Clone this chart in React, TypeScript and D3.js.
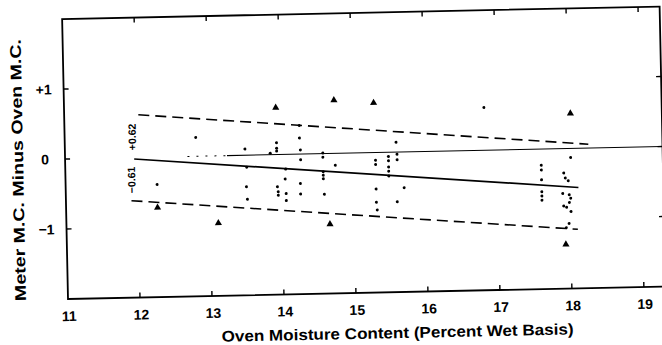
import React from 'react';
import * as d3 from 'd3';

// Axis ticks
const xTickValues = [11, 12, 13, 14, 15, 16, 17, 18, 19];
const xTickLabels = ['11', '12', '13', '14', '15', '16', '17', '18', '19'];
const yTickValues = [-1, 0, 1];
const yTickLabels = ['\u22121', '0', '+1'];

// Observations (oven MC, meter MC minus oven MC)
const dots: [number, number][] = [
  [12.82, 0.27], [12.27, -0.39],
  [13.50, 0.09], [13.52, -0.17], [13.51, -0.45], [13.52, -0.63],
  [13.85, 0.02], [13.94, 0.17], [13.94, 0.09], [13.94, 0.05], [13.94, -0.46], [13.95, -0.53], [13.95, -0.58],
  [14.06, -0.21], [14.05, -0.35], [14.06, -0.56], [14.06, -0.66],
  [14.26, 0.41], [14.26, 0.23], [14.27, 0.06], [14.27, -0.08], [14.26, -0.42], [14.26, -0.57],
  [14.58, 0.01], [14.58, -0.05], [14.58, -0.26], [14.58, -0.31], [14.58, -0.36], [14.59, -0.58], [14.75, -0.17],
  [15.31, -0.11], [15.31, -0.17], [15.31, -0.52], [15.31, -0.71], [15.32, -0.82],
  [15.49, -0.06], [15.49, -0.12], [15.49, -0.21], [15.49, -0.27], [15.49, -0.34],
  [15.60, 0.14], [15.61, -0.03], [15.61, -0.11], [15.60, -0.71], [15.70, -0.51],
  [16.83, 0.61],
  [17.61, -0.23], [17.61, -0.30], [17.61, -0.44], [17.61, -0.61], [17.61, -0.67], [17.61, -0.73],
  [18.02, -0.13], [17.92, -0.35], [17.94, -0.42], [17.98, -0.46], [17.90, -0.64], [17.99, -0.66],
  [18.01, -0.71], [17.99, -0.77], [17.91, -0.82], [17.95, -0.84], [18.01, -0.90], [17.98, -1.07], [17.94, -1.13],
];
const triangles: [number, number][] = [
  [13.94, 0.67], [12.27, -0.72], [13.11, -0.96], [14.75, 0.76],
  [15.30, 0.71], [14.66, -1.01], [18.03, 0.50], [17.93, -1.37],
];

// Lines
const fitLine: [number, number][] = [[11.96, -0.02], [18.12, -0.56]];
const upperBand: [number, number][] = [[12.03, 0.61], [18.27, 0.055]];
const lowerBand: [number, number][] = [[11.91, -0.615], [18.10, -1.157]];
const zeroDotted: [number, number][] = [[12.7, 0], [13.25, 0]];
const zeroLine: [number, number][] = [[13.25, 0], [19.3, 0]];
const bandLabels = [
  { text: '+0.62', x: 11.94, y: 0.295 },
  { text: '\u22120.61', x: 11.92, y: -0.319 },
];

const xTitle = 'Oven Moisture Content (Percent Wet Basis)';
const yTitle = 'Meter M.C. Minus Oven M.C.';

export default function App() {
  const W = 662;
  const H = 345;
  const x = d3.scaleLinear().domain([11, 19.3]).range([0, 597.6]);
  const y = d3.scaleLinear().domain([-2, 2]).range([280, 0]);
  const line = d3.line<[number, number]>().x((d) => x(d[0])).y((d) => y(d[1]));
  const tri = d3.symbol().type(d3.symbolTriangle).size(22)() as string;
  const font = "'Liberation Sans', Arial, Helvetica, sans-serif";
  const x0 = x(11);
  const x1 = x(19.3);
  const yb = y(-2);
  const yt = y(2);

  return (
    <svg width={W} height={H} style={{ position: 'absolute', left: 0, top: 0 }}>
      <rect width={W} height={H} fill="#fff" />
      <g transform="translate(68,299) rotate(-1.2) translate(0,-280)" fontFamily={font} fill="#000">
        {/* frame */}
        <path d={`M${x0},${yt} V${yb} H${x1} V${yt} Z`} fill="none" stroke="#000" strokeWidth={1.8} />
        {/* bottom ticks */}
        {xTickValues.filter((v) => v > 11).map((v) => (
          <line key={'bt' + v} x1={x(v)} x2={x(v)} y1={yb} y2={yb - 5} stroke="#000" strokeWidth={1.4} />
        ))}
        {/* top ticks */}
        {xTickValues.filter((v) => v > 11).map((v) => (
          <line key={'tt' + v} x1={x(v)} x2={x(v)} y1={yt} y2={yt + 5} stroke="#000" strokeWidth={1.4} />
        ))}
        {/* left and right ticks */}
        {yTickValues.map((v) => (
          <g key={'yt' + v}>
            <line x1={x0} x2={x0 + 5} y1={y(v)} y2={y(v)} stroke="#000" strokeWidth={1.4} />
            <line x1={x1} x2={x1 - 5} y1={y(v)} y2={y(v)} stroke="#000" strokeWidth={1.4} />
          </g>
        ))}
        {/* x tick labels */}
        {xTickValues.map((v, i) => (
          <text key={'xl' + v} x={x(v) + 1} y={yb + 22} fontSize={14} fontWeight="bold" textAnchor="middle">
            {xTickLabels[i]}
          </text>
        ))}
        {/* y tick labels */}
        {yTickValues.map((v, i) => (
          <text key={'yl' + v} x={x0 - 20} y={y(v) + 5} fontSize={14} fontWeight="bold" textAnchor="middle">
            {yTickLabels[i]}
          </text>
        ))}
        {/* titles */}
        <text x={(x(11) + x(19.3)) / 2 + 30} y={yb + 46} fontSize={15.5} fontWeight="bold" textAnchor="middle"
          textLength={352} lengthAdjust="spacingAndGlyphs">
          {xTitle}
        </text>
        <text transform={`translate(${x0 - 42},150) rotate(-90)`} fontSize={15.5} fontWeight="bold" textAnchor="middle"
          textLength={262} lengthAdjust="spacingAndGlyphs">
          {yTitle}
        </text>

        {/* reference zero line */}
        <path d={line(zeroDotted) as string} fill="none" stroke="#000" strokeWidth={1} strokeDasharray="2,7" />
        <path d={line(zeroLine) as string} fill="none" stroke="#000" strokeWidth={1.1} />
        {/* fitted line and bands */}
        <path d={line(fitLine) as string} fill="none" stroke="#000" strokeWidth={1.7} />
        <path d={line(upperBand) as string} fill="none" stroke="#000" strokeWidth={1.6} strokeDasharray="11,6" />
        <path d={line(lowerBand) as string} fill="none" stroke="#000" strokeWidth={1.6} strokeDasharray="11,6" />

        {/* band labels */}
        {bandLabels.map((b) => (
          <text key={b.text} transform={`translate(${x(b.x) + 3.5},${y(b.y)}) rotate(-90)`} fontSize={10.5} fontWeight="bold" textAnchor="middle">
            {b.text}
          </text>
        ))}

        {/* points */}
        {dots.map((d, i) => (
          <circle key={'d' + i} cx={x(d[0])} cy={y(d[1])} r={1.5} fill="#000" />
        ))}
        {triangles.map((d, i) => (
          <path key={'t' + i} d={tri} transform={`translate(${x(d[0])},${y(d[1])})`} fill="#000" />
        ))}
      </g>
    </svg>
  );
}
